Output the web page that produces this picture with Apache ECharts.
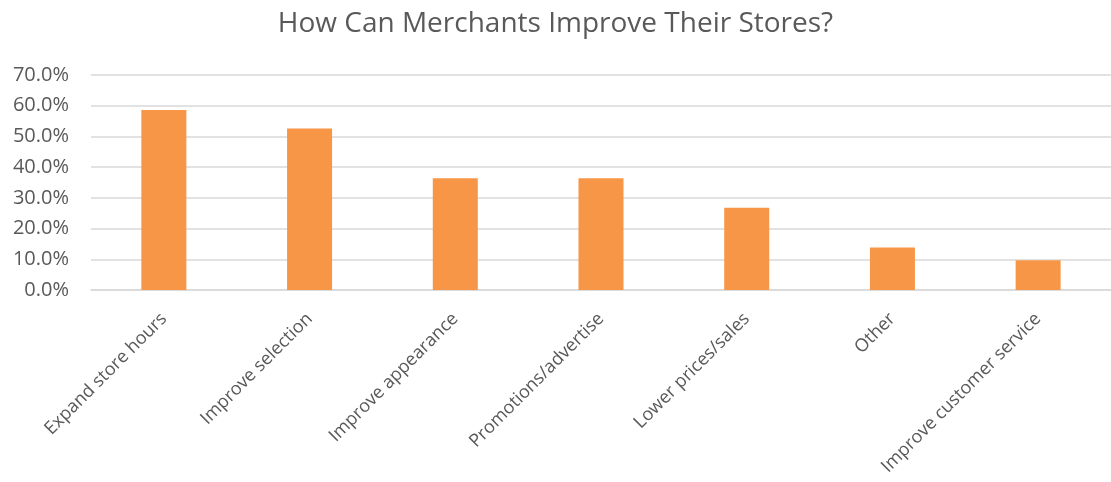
<!DOCTYPE html>
<html>
<head>
<meta charset="utf-8">
<script src="https://cdn.jsdelivr.net/npm/echarts@6/dist/echarts.min.js"></script>
<style>
  html, body { margin: 0; padding: 0; background: #fff; }
  #chart { width: 1111px; height: 482px; }
</style>
</head>
<body>
<div id="chart"></div>
<script>
// Survey responses: share of respondents choosing each improvement
const categories = [
  'Expand store hours',
  'Improve selection',
  'Improve appearance',
  'Promotions/advertise',
  'Lower prices/sales',
  'Other',
  'Improve customer service'
];
const shares = [0.586, 0.526, 0.364, 0.364, 0.268, 0.138, 0.097];
const yTicks = { min: 0, max: 0.7, step: 0.1 };

const textColor = '#595959';
const fontFamily = '"Open Sans", "Liberation Sans", sans-serif';

const chart = echarts.init(document.getElementById('chart'));
chart.setOption({
  animation: false,
  title: {
    text: 'How Can Merchants Improve Their Stores?',
    left: 'center',
    top: 5,
    textStyle: { color: textColor, fontSize: 28, fontWeight: 'normal', fontFamily: fontFamily }
  },
  grid: { left: 91, top: 75, width: 1026, height: 215, containLabel: false },
  xAxis: {
    type: 'category',
    data: categories,
    axisLine: { lineStyle: { color: '#d9d9d9', width: 1.5 } },
    axisTick: { show: false },
    axisLabel: {
      rotate: 45,
      margin: 26,
      interval: 0,
      color: textColor,
      fontSize: 18,
      fontFamily: fontFamily
    }
  },
  yAxis: {
    type: 'value',
    min: yTicks.min,
    max: yTicks.max,
    interval: yTicks.step,
    axisLine: { show: false },
    axisTick: { show: false },
    splitLine: { lineStyle: { color: '#d9d9d9', width: 1.5 } },
    axisLabel: {
      margin: 22,
      color: textColor,
      fontSize: 20,
      fontFamily: fontFamily,
      formatter: v => (v * 100).toFixed(1) + '%'
    }
  },
  series: [{
    type: 'bar',
    data: shares,
    barWidth: 45,
    itemStyle: { color: '#f79646' }
  }]
});
</script>
</body>
</html>
